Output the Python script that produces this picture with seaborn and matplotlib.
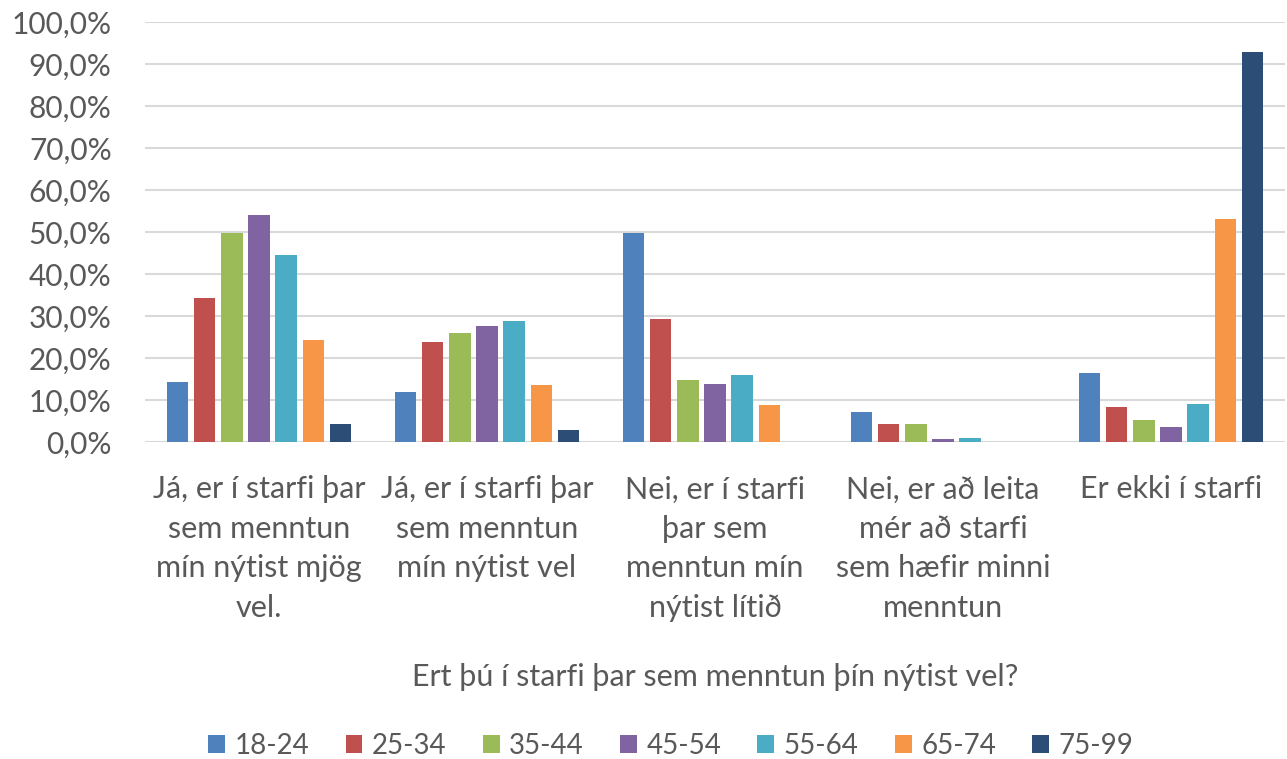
import matplotlib
matplotlib.use("Agg")
import matplotlib.pyplot as plt
import seaborn as sns
import pandas as pd
from matplotlib.patches import Patch
from matplotlib.ticker import FuncFormatter

categories = [
    "Já, er í starfi þar\nsem menntun\nmín nýtist mjög\nvel.",
    "Já, er í starfi þar\nsem menntun\nmín nýtist vel",
    "Nei, er í starfi\nþar sem\nmenntun mín\nnýtist lítið",
    "Nei, er að leita\nmér að starfi\nsem hæfir minni\nmenntun",
    "Er ekki í starfi",
]
age_groups = ["18-24", "25-34", "35-44", "45-54", "55-64", "65-74", "75-99"]
v_18_24 = [14.2, 11.8, 49.8, 7.1, 16.4]
v_25_34 = [34.4, 23.8, 29.3, 4.2, 8.3]
v_35_44 = [49.8, 26.0, 14.7, 4.2, 5.3]
v_45_54 = [54.0, 27.6, 13.8, 0.7, 3.6]
v_55_64 = [44.6, 28.8, 16.0, 1.0, 9.1]
v_65_74 = [24.4, 13.5, 8.7, 0.0, 53.2]
v_75_99 = [4.4, 2.8, 0.0, 0.0, 92.9]
colors = ["#4F81BD", "#C0504D", "#9BBB59", "#8064A2", "#4BACC6", "#F79646", "#2C4D75"]
x_title = "Ert þú í starfi þar sem menntun þín nýtist vel?"

series = [v_18_24, v_25_34, v_35_44, v_45_54, v_55_64, v_65_74, v_75_99]
rows = []
for g, vals in zip(age_groups, series):
    for c, v in zip(categories, vals):
        rows.append({"cat": c, "age": g, "val": v})
df = pd.DataFrame(rows)

sns.set_theme(style="white")
plt.rcParams["font.family"] = ["Lato", "DejaVu Sans"]
txt = "#595959"

fig = plt.figure(figsize=(12.87, 7.59), dpi=100)
ax = fig.add_axes([145 / 1287, 1 - 442 / 759, 1140 / 1287, 420 / 759])

sns.barplot(data=df, x="cat", y="val", hue="age", order=categories,
            hue_order=age_groups, palette=colors, saturation=1, width=0.83, gap=0.22,
            linewidth=0, ax=ax, legend=False, zorder=3)

ax.set_ylim(0, 100)
ax.set_xlim(-0.5, 4.5)
ax.set_yticks(range(0, 101, 10))
ax.yaxis.set_major_formatter(FuncFormatter(lambda v, p: f"{v:.1f}%".replace(".", ",")))
ax.grid(axis="y", color="#d9d9d9", linewidth=1.5, zorder=0)
ax.grid(axis="x", visible=False)
for s in ax.spines.values():
    s.set_visible(False)
ax.tick_params(axis="y", length=0, pad=24, labelsize=21.5, labelcolor=txt)
ax.tick_params(axis="x", length=0, pad=24, labelsize=22, labelcolor=txt)
for lab in ax.get_xticklabels():
    lab.set_linespacing(1.5)
ax.set_ylabel("")
ax.set_xlabel(x_title, fontsize=22, color=txt)
ax.xaxis.set_label_coords(0.5, -0.525)

handles = [Patch(facecolor=c, edgecolor="none", label=g) for c, g in zip(colors, age_groups)]
fig.legend(handles=handles, loc="center", bbox_to_anchor=(671 / 1287, 1 - 746 / 759),
           ncol=7, frameon=False, fontsize=20, handlelength=0.6, handleheight=0.6,
           handletextpad=0.35, columnspacing=1.3, labelcolor=txt)

fig.savefig("out.png", dpi=100)
